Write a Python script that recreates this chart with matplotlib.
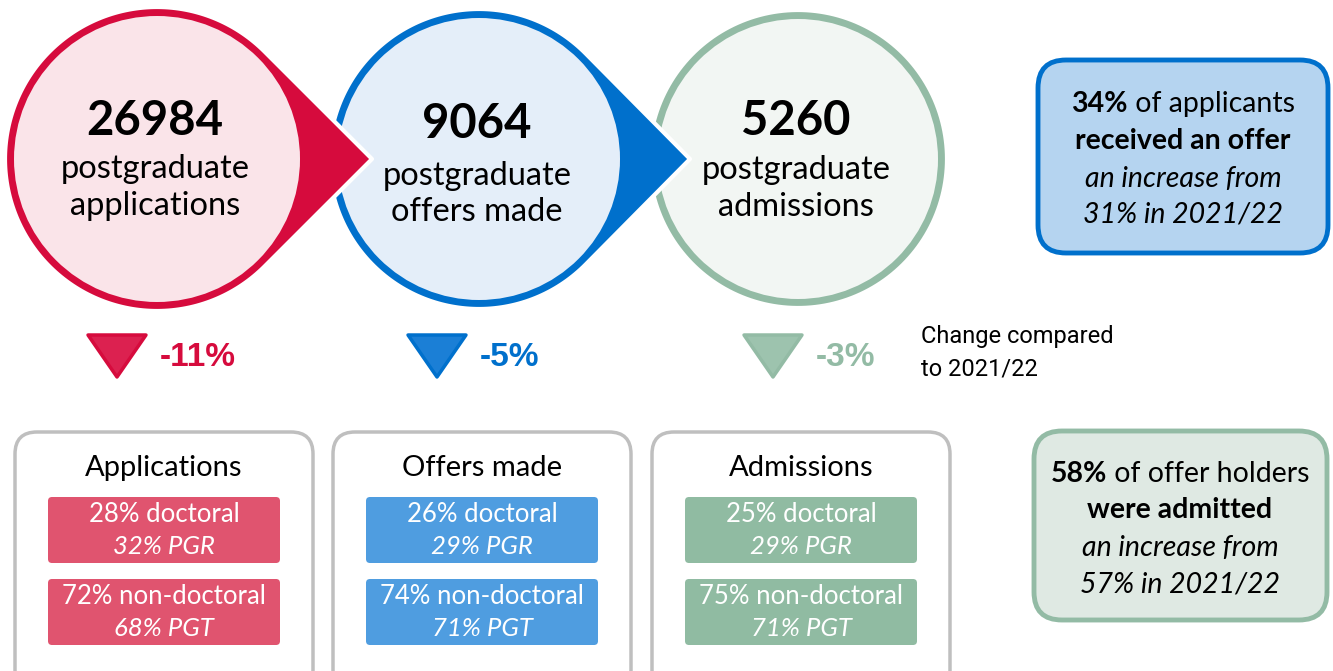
import numpy as np
import matplotlib
matplotlib.use("Agg")
import matplotlib.pyplot as plt
from matplotlib.patches import Polygon, Circle, FancyBboxPatch

# les données
stages = ["applications", "offers made", "admissions"]
box_titles = ["Applications", "Offers made", "Admissions"]
totals = [26984, 9064, 5260]
changes = [-11, -5, -3]
doctoral = [28, 26, 25]
pgr = [32, 29, 29]
non_doctoral = [72, 74, 75]
pgt = [68, 71, 71]
offer_rate = [34, 31]      # 2022/23, 2021/22
admit_rate = [58, 57]

# couleurs
edge_cols = ["#d60b3d", "#0070cc", "#93bba5"]
fill_cols = ["#fae4e9", "#e4eef9", "#f2f6f3"]
tri_cols = ["#dc2150", "#1b7fd6", "#9dc3ae"]
chg_cols = ["#d60b3d", "#0070cc", "#93bba5"]
chip_cols = ["#e0546f", "#4f9de0", "#90bba2"]

FONT = "Lato"

fig = plt.figure(figsize=(13.33, 6.71), dpi=100)
ax = fig.add_axes([0, 0, 1, 1])
ax.set_xlim(0, 1333)
ax.set_ylim(671, 0)
ax.axis("off")

# géométrie des cercles (pixels)
cxs = [157, 479, 798]
cy = 159
radii = [152, 150, 149]
tips = [372, 690, None]
ring = 9
text_y = [(121, 169, 206), (124, 176, 212), (121, 170, 207)]


def teardrop(cx, cy, R, tipx):
    if tipx is None:
        t = np.linspace(0, 2 * np.pi, 200)
        return np.column_stack([cx + R * np.cos(t), cy + R * np.sin(t)])
    d = tipx - cx
    phi = np.arccos(R / d)
    t = np.linspace(phi, 2 * np.pi - phi, 200)
    pts = np.column_stack([cx + R * np.cos(t), cy + R * np.sin(t)])
    return np.vstack([pts, [[tipx, cy]]])


# on dessine de droite à gauche pour que les pointes passent dessus
for i in [2, 1, 0]:
    ax.add_patch(Polygon(teardrop(cxs[i], cy, radii[i], tips[i]), closed=True,
                         facecolor=edge_cols[i], edgecolor="white", lw=3,
                         joinstyle="round", zorder=2 + 3 * (2 - i)))
    ax.add_patch(Circle((cxs[i], cy), radii[i] - ring, facecolor=fill_cols[i],
                        edgecolor="none", zorder=3 + 3 * (2 - i)))
    z = 4 + 3 * (2 - i)
    y1, y2, y3 = text_y[i]
    ax.text(cxs[i] - 2, y1, str(totals[i]), ha="center", va="center",
            fontsize=34, fontweight="bold", family=FONT, zorder=z)
    ax.text(cxs[i] - 2, y2, "postgraduate", ha="center", va="center",
            fontsize=23.5, family=FONT, zorder=z)
    ax.text(cxs[i] - 2, y3, stages[i], ha="center", va="center",
            fontsize=23.5, family=FONT, zorder=z)

# triangles de variation
tri_x = [117, 437, 773]
for i in range(3):
    x0 = tri_x[i]
    ax.add_patch(Polygon([[x0 - 29, 335], [x0 + 29, 335], [x0, 377]], closed=True,
                         facecolor=tri_cols[i], edgecolor=edge_cols[i], lw=2.5,
                         joinstyle="round"))
    ax.text(x0 + 43, 357, f"{changes[i]}%", ha="left", va="center",
            fontsize=24, fontweight="bold", family="Liberation Sans",
            color=chg_cols[i])

ax.text(921, 336, "Change compared", ha="left", va="center", fontsize=17,
        family="Roboto")
ax.text(921, 369, "to 2021/22", ha="left", va="center", fontsize=17,
        family="Roboto")

# boîtes du bas
box_x = [15, 333, 652]
box_w = 298
for i in range(3):
    bx = box_x[i]
    ax.add_patch(FancyBboxPatch((bx, 432), box_w, 260,
                                boxstyle="round,pad=0,rounding_size=22",
                                facecolor="white", edgecolor="#bfbfbf", lw=2.5))
    mx = bx + box_w / 2
    ax.text(mx, 468, box_titles[i], ha="center", va="center", fontsize=21,
            family=FONT)
    for j, (lab1, lab2) in enumerate([(f"{doctoral[i]}% doctoral", f"{pgr[i]}% PGR"),
                                       (f"{non_doctoral[i]}% non-doctoral", f"{pgt[i]}% PGT")]):
        y0 = 497 + j * 82
        ax.add_patch(FancyBboxPatch((bx + 33, y0), 232, 66,
                                    boxstyle="round,pad=0,rounding_size=4",
                                    facecolor=chip_cols[i], edgecolor="none"))
        ax.text(mx, y0 + 17, lab1, ha="center", va="center", fontsize=18.5,
                family=FONT, color="white")
        ax.text(mx, y0 + 50, lab2, ha="center", va="center", fontsize=18.5,
                family=FONT, style="italic", color="white")

# boîtes de droite
ax.add_patch(FancyBboxPatch((1038, 60), 290, 193,
                            boxstyle="round,pad=0,rounding_size=28",
                            facecolor="#b5d4f0", edgecolor="#0070cc", lw=3.5))
ax.add_patch(FancyBboxPatch((1034, 431), 293, 189,
                            boxstyle="round,pad=0,rounding_size=28",
                            facecolor="#dfe9e3", edgecolor="#93bba5", lw=3.5))

fig.canvas.draw()
renderer = fig.canvas.get_renderer()


def mixed_line(xc, y, parts, size):
    # parts = [(texte, gras?)], centré sur xc
    objs = []
    for txt, bold in parts:
        objs.append(ax.text(0, y, txt, ha="left", va="center", fontsize=size,
                            family=FONT, fontweight="bold" if bold else "normal"))
    widths = [o.get_window_extent(renderer).width for o in objs]
    x = xc - sum(widths) / 2
    for o, w in zip(objs, widths):
        o.set_x(x)
        x += w


RS = 20.5
mixed_line(1183, 104, [(f"{offer_rate[0]}%", True), (" of applicants", False)], RS)
ax.text(1183, 141, "received an offer", ha="center", va="center", fontsize=RS,
        fontweight="bold", family=FONT)
ax.text(1183, 179, "an increase from", ha="center", va="center", fontsize=RS,
        style="italic", family=FONT)
ax.text(1183, 215, f"{offer_rate[1]}% in 2021/22", ha="center", va="center",
        fontsize=RS, style="italic", family=FONT)

mixed_line(1180, 474, [(f"{admit_rate[0]}%", True), (" of offer holders", False)], RS)
ax.text(1180, 510, "were admitted", ha="center", va="center", fontsize=RS,
        fontweight="bold", family=FONT)
ax.text(1180, 548, "an increase from", ha="center", va="center", fontsize=RS,
        style="italic", family=FONT)
ax.text(1180, 584, f"{admit_rate[1]}% in 2021/22", ha="center", va="center",
        fontsize=RS, style="italic", family=FONT)

fig.savefig("out.png", dpi=100)
